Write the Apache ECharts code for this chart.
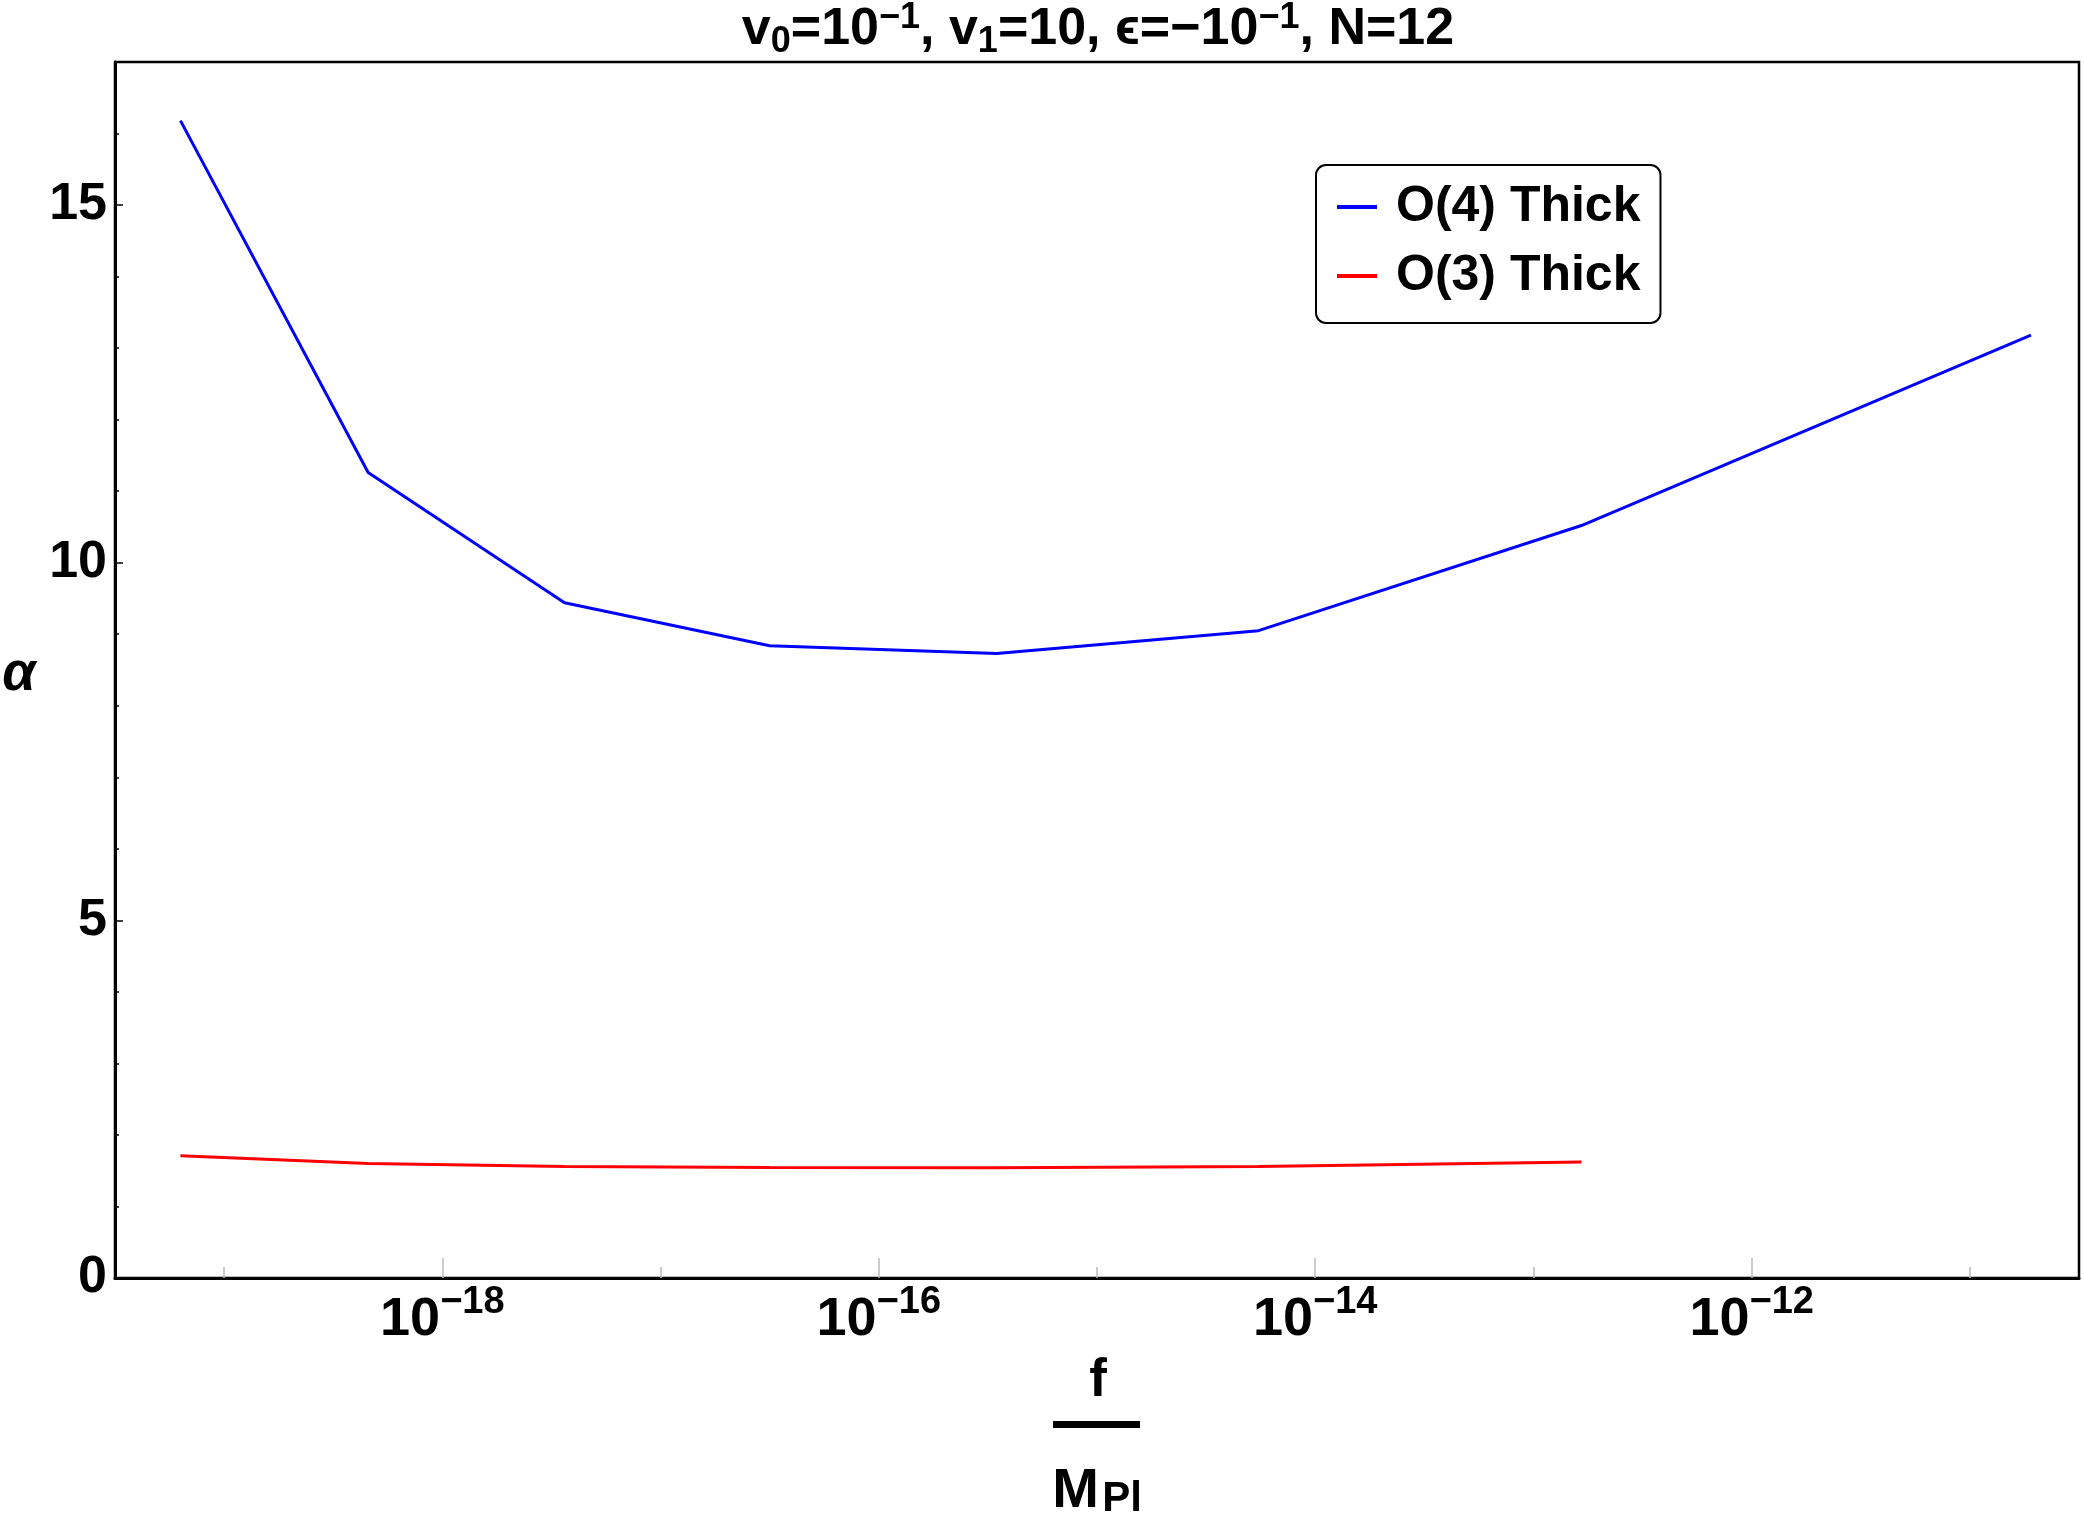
<!DOCTYPE html>
<html>
<head>
<meta charset="utf-8">
<title>alpha vs f/MPl</title>
<script src="https://cdn.jsdelivr.net/npm/echarts@6/dist/echarts.min.js"></script>
<style>
  html, body { margin: 0; padding: 0; background: #fff; }
  #container { width: 2084px; height: 1523px; }
</style>
</head>
<body>
<div id="container"></div>
<script>
// x values are log10(f / M_Pl)
var logF = [-19.2, -18.34, -17.44, -16.5, -15.46, -14.26, -12.78, -10.72];
var alphaO4 = [16.18, 11.26, 9.44, 8.84, 8.73, 9.05, 10.52, 13.18];
var logFO3 = [-19.2, -18.34, -17.44, -16.5, -15.46, -14.26, -12.78];
var alphaO3 = [1.71, 1.60, 1.56, 1.545, 1.54, 1.56, 1.62];

var xMajor = [-18, -16, -14, -12];
var xMinor = [-19, -17, -15, -13, -11];
var yMajor = [0, 5, 10, 15];
var yMinor = [1, 2, 3, 4, 6, 7, 8, 9, 11, 12, 13, 14, 16];

var seriesNames = ['O(4) Thick', 'O(3) Thick'];

var NARROW = '"Liberation Sans Narrow", "Arial Narrow", sans-serif';
var SANS = '"Liberation Sans", Arial, sans-serif';

function pairs(xs, ys) {
    var out = [];
    for (var i = 0; i < xs.length; i++) {
        out.push([xs[i], ys[i]]);
    }
    return out;
}

function onLoad() {
    var dom = document.getElementById('container');
    var myChart = echarts.init(dom);
    myChart.setOption(getOption(), true);
}

function getOption() {
    var gridLeft = 115, gridRight = 5, gridTop = 62, gridBottom = 245;
    var option = {
        animation: false,
        backgroundColor: '#fff',
        title: {
            text: '{b|v}{sub|0}{b|=10}{sup|\u22121}{b|, v}{sub|1}{b|=10, \u03f5=\u221210}{sup|\u22121}{b|, N=12}',
            left: 1098,
            top: 0,
            padding: 0,
            textAlign: 'center',
            textStyle: {
                rich: {
                    b: { fontFamily: SANS, fontWeight: 'bold', fontSize: 52, lineHeight: 60, color: '#000' },
                    sub: { fontFamily: SANS, fontWeight: 'bold', fontSize: 36, lineHeight: 36, verticalAlign: 'bottom', color: '#000' },
                    sup: { fontFamily: SANS, fontWeight: 'bold', fontSize: 36, lineHeight: 36, verticalAlign: 'top', color: '#000' }
                }
            }
        },
        legend: {
            orient: 'vertical',
            left: 1316,
            top: 165,
            padding: [14, 20, 19, 21],
            itemGap: 13,
            itemWidth: 40,
            itemHeight: 4,
            icon: 'rect',
            borderColor: '#000',
            borderWidth: 2,
            borderRadius: 10,
            backgroundColor: '#fff',
            data: seriesNames,
            textStyle: {
                fontFamily: SANS,
                fontWeight: 'bold',
                fontSize: 50,
                lineHeight: 56,
                color: '#000',
                padding: [0, 0, 0, 14]
            }
        },
        grid: {
            left: gridLeft, right: gridRight, top: gridTop, bottom: gridBottom,
            show: true,
            borderColor: '#000',
            borderWidth: 2.5,
            backgroundColor: '#fff'
        },
        xAxis: [{
            type: 'value',
            min: -19.5,
            max: -10.5,
            interval: 0.5,
            position: 'bottom',
            splitLine: { show: false },
            axisLine: { show: true, lineStyle: { color: '#000', width: 3 } },
            axisTick: {
                show: true, inside: true, length: 20,
                customValues: xMajor,
                lineStyle: { color: '#bbb', width: 1.5 }
            },
            axisLabel: {
                show: true,
                margin: 6,
                customValues: xMajor,
                formatter: function (v) {
                    return '{base|10}{sup|\u2212' + Math.abs(v) + '}';
                },
                rich: {
                    base: { fontFamily: NARROW, fontWeight: 'bold', fontSize: 54, lineHeight: 72, color: '#000' },
                    sup: { fontFamily: NARROW, fontWeight: 'bold', fontSize: 38, lineHeight: 40, verticalAlign: 'top', color: '#000' }
                }
            }
        }, {
            type: 'value',
            min: -19.5,
            max: -10.5,
            interval: 0.5,
            position: 'bottom',
            splitLine: { show: false },
            axisLine: { show: false },
            axisLabel: { show: false },
            axisTick: {
                show: true, inside: true, length: 11,
                customValues: xMinor,
                lineStyle: { color: '#bbb', width: 1.5 }
            }
        }],
        yAxis: [{
            type: 'value',
            min: 0,
            max: 17,
            interval: 5,
            position: 'left',
            splitLine: { show: false },
            axisLine: { show: true, lineStyle: { color: '#000', width: 3 } },
            axisTick: {
                show: true, inside: true, length: 8,
                customValues: yMajor,
                lineStyle: { color: '#000', width: 1.5 }
            },
            axisLabel: {
                show: true,
                margin: 8,
                customValues: yMajor,
                fontFamily: SANS,
                fontWeight: 'bold',
                fontSize: 52,
                color: '#000'
            }
        }, {
            type: 'value',
            min: 0,
            max: 17,
            interval: 1,
            position: 'left',
            splitLine: { show: false },
            axisLine: { show: false },
            axisLabel: { show: false },
            axisTick: {
                show: true, inside: true, length: 4,
                customValues: yMinor,
                lineStyle: { color: '#000', width: 1.5 }
            }
        }],
        series: [{
            name: seriesNames[0],
            type: 'line',
            data: pairs(logF, alphaO4),
            symbol: 'none',
            color: '#0000ff',
            lineStyle: { color: '#0000ff', width: 3 }
        }, {
            name: seriesNames[1],
            type: 'line',
            data: pairs(logFO3, alphaO3),
            symbol: 'none',
            color: '#ff0000',
            lineStyle: { color: '#ff0000', width: 3 }
        }],
        graphic: [{
            type: 'text',
            x: 19, y: 675,
            style: {
                text: '\u03b1',
                font: 'italic bold 54px "Liberation Sans", sans-serif',
                fill: '#000',
                align: 'center',
                verticalAlign: 'middle'
            }
        }, {
            // axis title drawn as a fraction f / M_Pl
            type: 'text',
            x: 1098, y: 1381,
            style: {
                text: 'f',
                font: 'bold 53px ' + NARROW,
                fill: '#000',
                align: 'center',
                verticalAlign: 'middle'
            }
        }, {
            type: 'rect',
            shape: { x: 1053, y: 1421, width: 87, height: 7 },
            style: { fill: '#000' }
        }, {
            type: 'text',
            x: 1097, y: 1520,
            style: {
                text: '{m|M} {p|Pl}',
                align: 'center',
                verticalAlign: 'bottom',
                rich: {
                    m: { font: 'bold 56px ' + NARROW, fill: '#000', verticalAlign: 'bottom' },
                    p: { font: 'bold 42px ' + NARROW, fill: '#000', verticalAlign: 'bottom' }
                }
            }
        }]
    };
    return option;
}

onLoad();
</script>
</body>
</html>
